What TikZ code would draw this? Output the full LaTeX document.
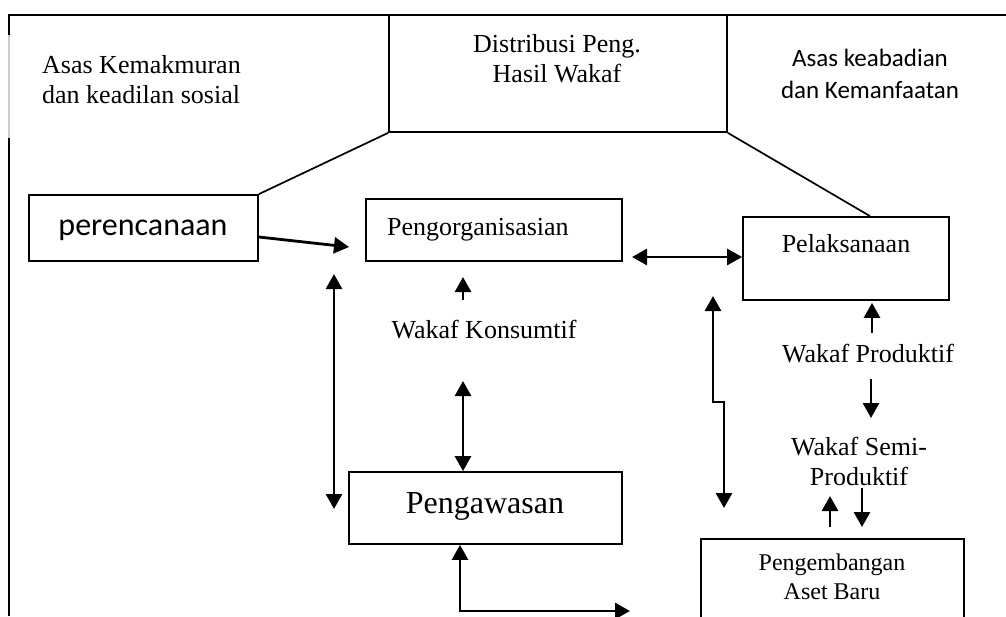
\documentclass[tikz,border=0pt]{standalone}
\usepackage{fontspec}
\setmainfont{Liberation Serif}
\newfontfamily\calibrifont{Carlito}
\usetikzlibrary{arrows.meta,calc}

\tikzset{
  box/.style={draw, line width=1.8pt, inner sep=0pt},
  txt/.style={inner sep=0pt, font=\fontsize{26}{30}\selectfont},
  arr/.style={line width=2.8pt, -{Triangle[length=15pt,width=16pt]}},
  darr/.style={line width=2.8pt, {Triangle[length=15pt,width=16pt]}-{Triangle[length=15pt,width=16pt]}},
  thin line/.style={line width=1.7pt}
}

\begin{document}
\begin{tikzpicture}[x=1pt,y=-1pt]
  \useasboundingbox (0,0) rectangle (1006,616);
  \clip (0,0) rectangle (1006,616);

  %%%%% frame %%%%%
  \draw[thin line] (9,616) -- (9,138);
  \draw[thin line, black!20] (9,138) -- (9,35);
  \draw[thin line] (9,35) -- (9,15) -- (1010,15);

  %%%%% boxes %%%%%
  \node[box, minimum width=338pt, minimum height=117pt] (dist) at (558,73.5) {};
  \node[box, minimum width=229pt, minimum height=66pt] (per) at (143.5,228) {};
  \node[box, minimum width=256pt, minimum height=62pt] (org) at (494,230) {};
  \node[box, minimum width=206pt, minimum height=83pt] (pel) at (846,258.5) {};
  \node[box, minimum width=273pt, minimum height=72pt] (paw) at (485.5,508) {};
  \node[box, minimum width=263pt, minimum height=110pt] (dev) at (832.5,594) {};

  %%%%% texts (base = last line) %%%%%
  \node[txt, anchor=base west, align=left] (asas1) at (42,103) {Asas Kemakmuran\\dan keadilan sosial};
  \node[txt, anchor=base, align=center] (distt) at (557,82) {Distribusi Peng.\\Hasil Wakaf};
  \node[txt, anchor=base, align=center, font=\calibrifont\fontsize{25}{32}\selectfont] (asas2) at (870,98) {Asas keabadian\\dan Kemanfaatan};
  \node[txt, anchor=base, font=\calibrifont\fontsize{32}{38}\selectfont] (pert) at (143,235) {perencanaan};
  \node[txt, anchor=base west] (orgt) at (387,235) {Pengorganisasian};
  \node[txt, anchor=base] (pelt) at (846,252) {Pelaksanaan};
  \node[txt, anchor=base] (kons) at (484,338) {Wakaf Konsumtif};
  \node[txt, anchor=base, font=\fontsize{32}{38}\selectfont] (pawt) at (485,513) {Pengawasan};
  \node[txt, anchor=base] (prod) at (868,362) {Wakaf Produktif};
  \node[txt, anchor=base, align=center] (semi) at (859,485) {Wakaf Semi-\\Produktif};
  \node[txt, anchor=base, align=center, font=\fontsize{24}{29}\selectfont] (devt) at (832,599) {Pengembangan\\Aset Baru};

  %%%%% links to the top box %%%%%
  \draw[thin line] (per.north east) -- (dist.south west);
  \draw[thin line] (dist.south east) -- ($(pel.north)+(24,0)$);

  %%%%% arrows %%%%%
  \coordinate (p1) at (349,247);
  \draw[arr] ($(per.east)+(0,9)$) -- (p1);

  \coordinate (o1) at (632,257);
  \draw[darr] (o1) -- (o1 -| pel.west);

  \coordinate (l1) at (334,274);
  \coordinate (l2) at (334,509);
  \draw[darr] (l1) -- (l2);

  \coordinate (k1) at (463,300);
  \draw[arr] (k1) -- ++(0,-23);
  \coordinate (k2) at (463,381);
  \draw[darr] (k2) -- (k2 |- paw.north);

  \coordinate (b0) at (460,611);
  \coordinate (b1) at (630,611);
  \draw[darr] (b0 |- paw.south) -- (b0) -- (b1);

  \coordinate (j1) at (713,296);
  \coordinate (j2) at (724,508);
  \draw[darr] (j1) -- ++(0,106) -- ++(11,0) -- (j2);

  \coordinate (w1) at (872,333);
  \draw[arr, shorten >=2pt] (w1) -- (w1 |- pel.south);
  \coordinate (w2) at (871,379);
  \draw[arr] (w2) -- ++(0,39);

  \coordinate (s1) at (830,527);
  \draw[arr] (s1) -- ++(0,-31);
  \coordinate (s2) at (862,488);
  \draw[arr] (s2) -- ++(0,39);

\end{tikzpicture}
\end{document}
